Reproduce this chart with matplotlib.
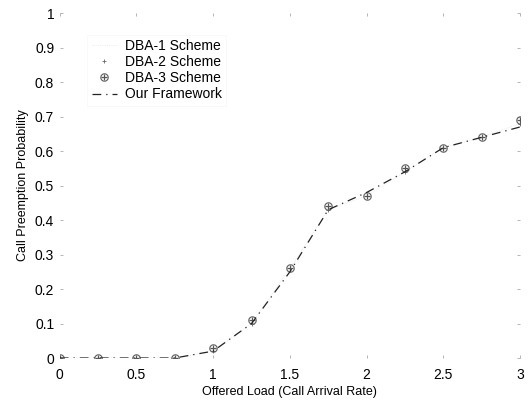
import matplotlib.pyplot as plt

plt.rcParams['font.family'] = ['Liberation Sans', 'DejaVu Sans']

carga = [0, 0.25, 0.5, 0.75, 1.0, 1.25, 1.5, 1.75, 2.0, 2.25, 2.5, 2.75, 3.0]
dba1 = [0, 0, 0, 0, 0.02, 0.10, 0.26, 0.43, 0.47, 0.54, 0.61, 0.64, 0.68]
dba2 = [0, 0, 0, 0, 0.02, 0.10, 0.26, 0.43, 0.47, 0.54, 0.61, 0.64, 0.68]
dba3 = [0, 0, 0, 0, 0.03, 0.11, 0.26, 0.44, 0.47, 0.55, 0.61, 0.64, 0.69]
marco = [0, 0, 0, 0, 0.02, 0.10, 0.25, 0.43, 0.48, 0.54, 0.61, 0.64, 0.67]

xticks = [0, 0.5, 1, 1.5, 2, 2.5, 3]
yticks = [0, 0.1, 0.2, 0.3, 0.4, 0.5, 0.6, 0.7, 0.8, 0.9, 1]

fig = plt.figure(figsize=(5.29, 4), dpi=100)
ax = fig.add_axes([0.113, 0.105, 0.87, 0.862])

ax.plot(carga, dba1, color='#dddddd', linewidth=0.5, linestyle=':', label='DBA-1 Scheme')
ax.plot(carga, dba2, color='#666666', linestyle='none', marker='+',
        markersize=3.5, markeredgewidth=0.6, label='DBA-2 Scheme')
ax.plot(carga, dba3, color='#555555', linestyle='none', marker='$\\oplus$',
        markersize=6, markeredgewidth=0.1, label='DBA-3 Scheme')
ax.plot(carga, marco, color='#222222', linewidth=0.9, linestyle=(0, (7, 4, 1, 4)),
        label='Our Framework')

ax.set_xlim(0, 3)
ax.set_ylim(0, 1)
ax.set_xticks(xticks)
ax.set_xticklabels([f"{t:g}" for t in xticks])
ax.set_yticks(yticks)
ax.set_yticklabels([f"{t:g}" for t in yticks])
ax.tick_params(direction='in', length=2, width=0.5, color='#999999',
               top=True, right=True, labelsize=10)
ax.tick_params(axis='x', pad=7)
ax.tick_params(axis='y', pad=4)
for s in ax.spines.values():
    s.set_visible(False)

ax.set_xlabel('Offered Load (Call Arrival Rate)', fontsize=9, labelpad=3)
ax.set_ylabel('Call Preemption Probability', fontsize=9, labelpad=4)

leg = ax.legend(loc='upper left', bbox_to_anchor=(0.045, 0.957), fontsize=10,
                frameon=True, fancybox=False, edgecolor='#f6f6f6',
                handlelength=1.8, labelspacing=0.15, borderpad=0.3, handletextpad=0.6)
leg.get_frame().set_linewidth(0.5)

fig.savefig('out.png', dpi=100)
